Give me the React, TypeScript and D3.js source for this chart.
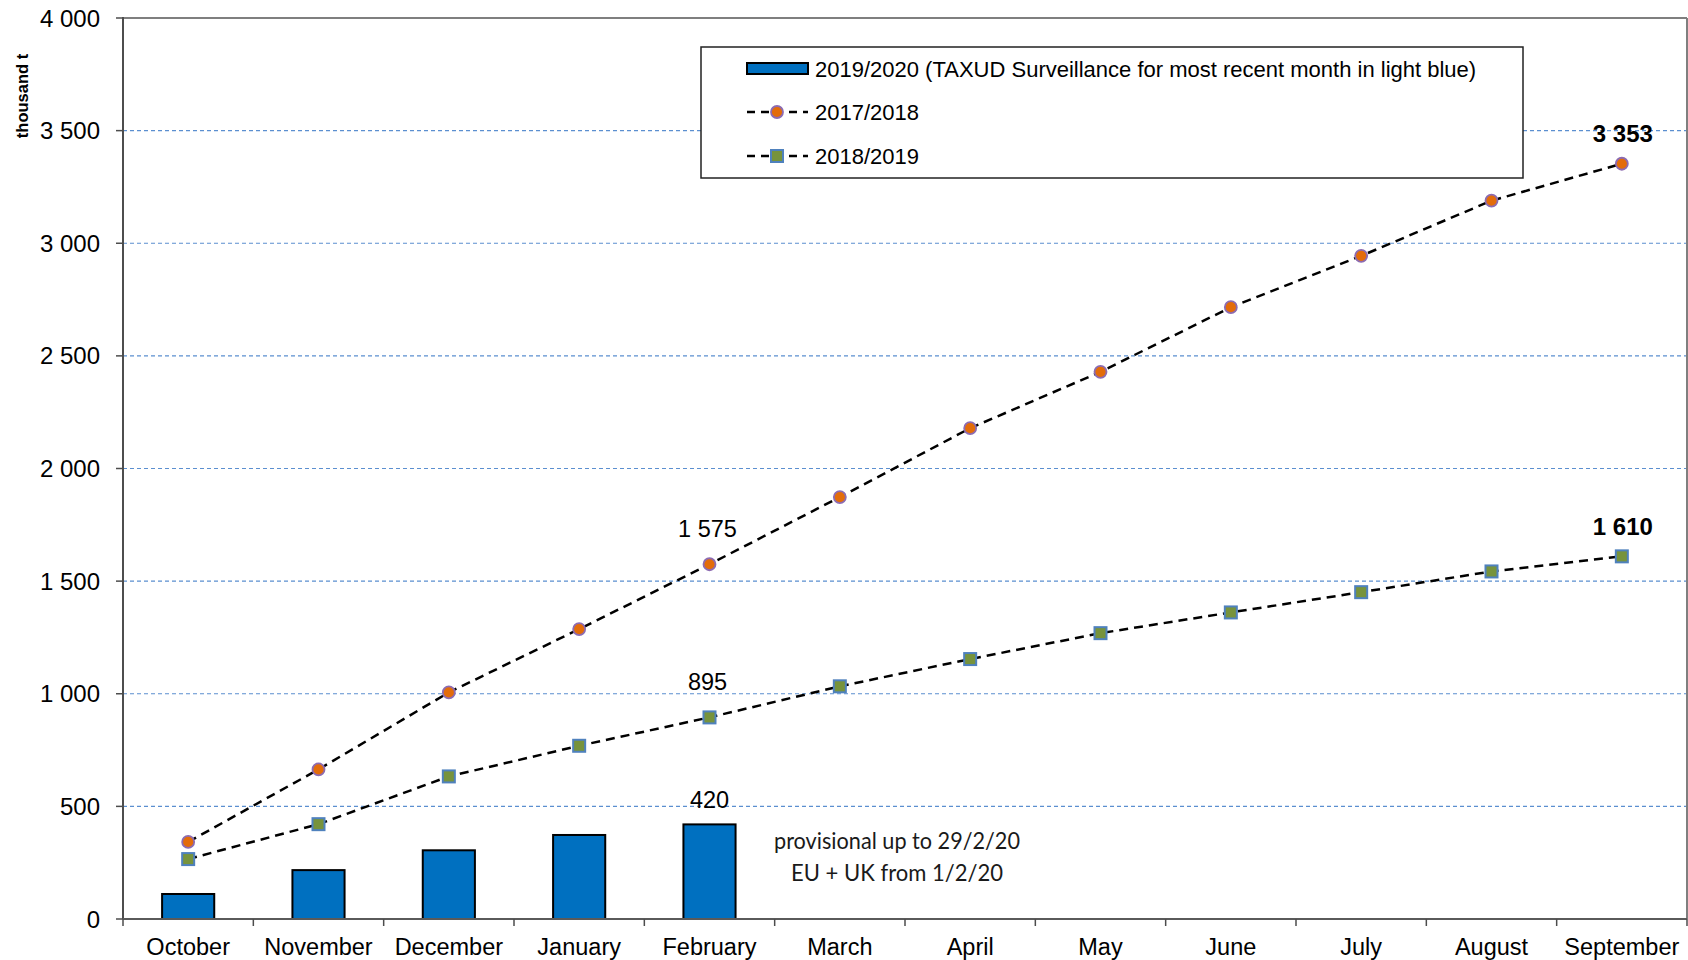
import React from "react";
import * as d3 from "d3";

const months = ["October","November","December","January","February","March","April","May","June","July","August","September"];
const series1920 = [111, 217, 305, 373, 420];
const series1718 = [342, 664, 1006, 1287, 1575, 1873, 2179, 2429, 2716, 2944, 3189, 3353];
const series1819 = [266, 421, 633, 769, 895, 1033, 1154, 1269, 1361, 1451, 1543, 1610];
const yTicks = [0, 500, 1000, 1500, 2000, 2500, 3000, 3500, 4000];
const legendLabels = [
  "2019/2020 (TAXUD Surveillance for most recent month in light blue)",
  "2017/2018",
  "2018/2019",
];
const noteLines = ["provisional up to 29/2/20", "EU + UK from 1/2/20"];

const W = 1688, H = 960;
const L = 123, R = 1687, T = 18, B = 919;

const loc = d3.formatLocale({ decimal: ".", thousands: " ", grouping: [3], currency: ["", ""] });
const fmt = loc.format(",d");

const x = d3.scaleBand<string>().domain(months).range([L, R]).padding(0);
const y = d3.scaleLinear().domain([0, 4000]).range([B, T]);
const cx = (m: string) => (x(m) as number) + x.bandwidth() / 2;

const lineGen = d3.line<number>().x((_, i) => cx(months[i])).y((d) => y(d));

const FONT = "Arial, 'Liberation Sans', sans-serif";
const ORANGE = "#E36C0A";
const PURPLE = "#8C6BB1";
const OLIVE = "#77933C";
const SQBLUE = "#4F81BD";
const BARBLUE = "#0070C0";

function Circle({ x0, y0 }: { x0: number; y0: number }) {
  return <circle cx={x0} cy={y0} r={6} fill={ORANGE} stroke={PURPLE} strokeWidth={1.8} />;
}
function Square({ x0, y0 }: { x0: number; y0: number }) {
  return <rect x={x0 - 6} y={y0 - 6} width={12} height={12} fill={OLIVE} stroke={SQBLUE} strokeWidth={2} />;
}

export default function App() {
  const bw = x.bandwidth() * 0.4;
  const feb = months[4];
  const sep = months[11];
  return (
    <svg width={W} height={H} style={{ position: "absolute", left: 0, top: 0, background: "#fff" }} fontFamily={FONT}>
      <rect x={0} y={0} width={W} height={H} fill="#fff" />
      {yTicks.filter((t) => t > 0 && t < 4000).map((t) => (
        <line key={t} x1={L} x2={R} y1={y(t)} y2={y(t)} stroke="#5B8FD0" strokeWidth={1.2} strokeDasharray="4,3" />
      ))}
      <line x1={L} x2={R} y1={y(4000)} y2={y(4000)} stroke="#7f7f7f" strokeWidth={2} />
      <line x1={R} x2={R} y1={T} y2={B} stroke="#7f7f7f" strokeWidth={2} />

      {series1920.map((v, i) => (
        <rect key={i} x={cx(months[i]) - bw / 2} y={y(v)} width={bw} height={y(0) - y(v)} fill={BARBLUE} stroke="#000" strokeWidth={2} />
      ))}

      <path d={lineGen(series1718) || ""} fill="none" stroke="#000" strokeWidth={2.5} strokeDasharray="9,6" />
      <path d={lineGen(series1819) || ""} fill="none" stroke="#000" strokeWidth={2.5} strokeDasharray="9,6" />
      {series1718.map((v, i) => <Circle key={"c" + i} x0={cx(months[i])} y0={y(v)} />)}
      {series1819.map((v, i) => <Square key={"s" + i} x0={cx(months[i])} y0={y(v)} />)}

      <line x1={L} x2={L} y1={T - 1} y2={B} stroke="#4d4d4d" strokeWidth={2} />
      <line x1={L} x2={R} y1={B} y2={B} stroke="#5a5a5a" strokeWidth={2} />
      {yTicks.map((t) => (
        <g key={t}>
          <line x1={L - 7} x2={L} y1={y(t)} y2={y(t)} stroke="#4d4d4d" strokeWidth={1.5} />
          <text x={100} y={y(t)} textAnchor="end" dominantBaseline="central" fontSize={24} fill="#000">{fmt(t)}</text>
        </g>
      ))}
      {months.map((m, i) => (
        <line key={"xt" + i} x1={(x(m) as number)} x2={(x(m) as number)} y1={B} y2={B + 7} stroke="#4d4d4d" strokeWidth={1.5} />
      ))}
      <line x1={R} x2={R} y1={B} y2={B + 7} stroke="#4d4d4d" strokeWidth={1.5} />
      {months.map((m) => (
        <text key={m} x={cx(m)} y={955} textAnchor="middle" fontSize={23.5} fill="#000">{m}</text>
      ))}
      <text transform={`translate(28,96) rotate(-90)`} textAnchor="middle" fontSize={16.5} fontWeight="bold" fill="#000">thousand t</text>

      <text x={cx(feb) - 2} y={y(series1718[4]) - 27} textAnchor="middle" fontSize={23.5} fill="#000">{fmt(series1718[4])}</text>
      <text x={cx(feb) - 2} y={y(series1819[4]) - 27} textAnchor="middle" fontSize={23.5} fill="#000">{fmt(series1819[4])}</text>
      <text x={cx(feb)} y={y(series1920[4]) - 16} textAnchor="middle" fontSize={23.5} fill="#000">{fmt(series1920[4])}</text>
      <text x={cx(sep) + 1} y={y(series1718[11]) - 22} textAnchor="middle" fontSize={24} fontWeight="bold" fill="#000">{fmt(series1718[11])}</text>
      <text x={cx(sep) + 1} y={y(series1819[11]) - 21} textAnchor="middle" fontSize={24} fontWeight="bold" fill="#000">{fmt(series1819[11])}</text>

      <text x={897} y={849} textAnchor="middle" fontSize={24} fontFamily="Lato, 'Open Sans', sans-serif" fill="#1a1a1a" textLength={246} lengthAdjust="spacingAndGlyphs">{noteLines[0]}</text>
      <text x={897} y={881} textAnchor="middle" fontSize={24} fontFamily="Lato, 'Open Sans', sans-serif" fill="#1a1a1a" textLength={212} lengthAdjust="spacingAndGlyphs">{noteLines[1]}</text>

      <rect x={701} y={47} width={822} height={131} fill="#fff" stroke="#222" strokeWidth={1.5} />
      <rect x={747} y={63} width={61} height={11} fill={BARBLUE} stroke="#000" strokeWidth={2} />
      <text x={815} y={69} dominantBaseline="central" fontSize={22} fill="#000">{legendLabels[0]}</text>
      <line x1={747} x2={808} y1={112} y2={112} stroke="#000" strokeWidth={2.5} strokeDasharray="8,6" />
      <Circle x0={777} y0={112} />
      <text x={815} y={112} dominantBaseline="central" fontSize={22} fill="#000">{legendLabels[1]}</text>
      <line x1={747} x2={808} y1={156} y2={156} stroke="#000" strokeWidth={2.5} strokeDasharray="8,6" />
      <Square x0={777} y0={156} />
      <text x={815} y={156} dominantBaseline="central" fontSize={22} fill="#000">{legendLabels[2]}</text>
    </svg>
  );
}
